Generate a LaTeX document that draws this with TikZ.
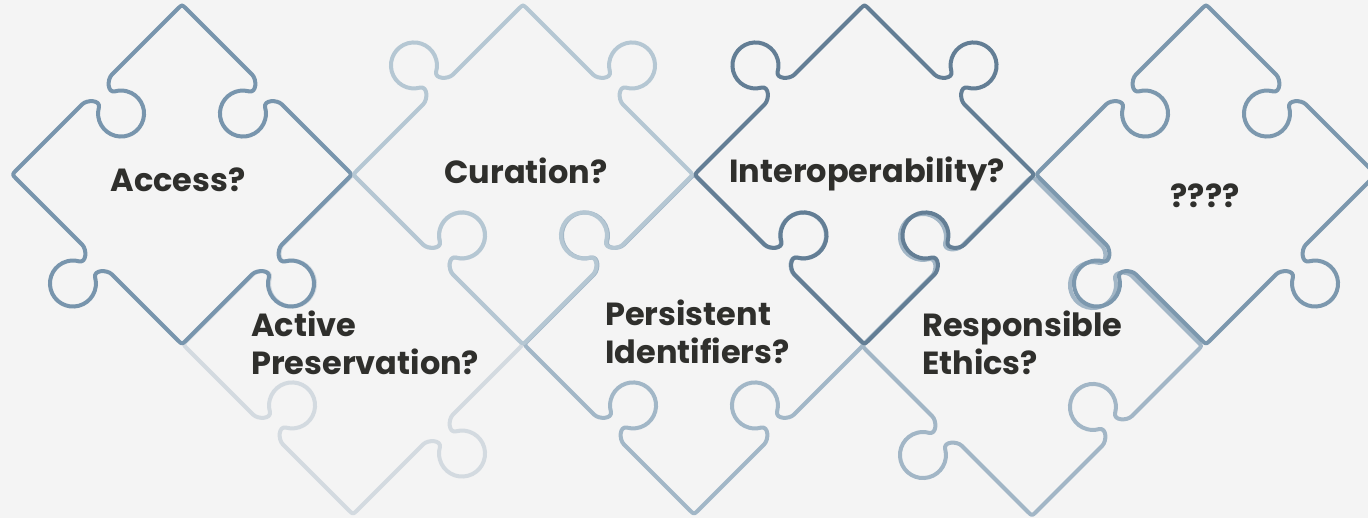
\documentclass[tikz,border=0pt]{standalone}
\usepackage{fontspec}
\setmainfont{Poppins}
\definecolor{bgc}{HTML}{F4F4F4}
\definecolor{txt}{HTML}{2F2F2C}
\definecolor{cAccess}{HTML}{7895AD}
\definecolor{cCuration}{HTML}{B5C7D3}
\definecolor{cInterop}{HTML}{637E95}
\definecolor{cQuest}{HTML}{7C98AE}
\definecolor{cActive}{HTML}{D3DAE0}
\definecolor{cPersist}{HTML}{A2B7C7}
\definecolor{cEthics}{HTML}{A2B6C6}
\def\H{120.2}
% one edge of a piece (square frame): Mx My ex ey sign phi
\newcommand\Edge[6]{%
 -- ({#1+(#3)*(-21)},{#2+(#4)*(-21)})
 .. controls ({#1+(#3)*(-14)},{#2+(#4)*(-14)}) and ({#1+(#3)*(-4.6)-(#5)*(#4)*(10.1)},{#2+(#4)*(-4.6)+(#5)*(#3)*(10.1)})
 .. ({#1+(#3)*(-11.5)-(#5)*(#4)*(14.1)},{#2+(#4)*(-11.5)+(#5)*(#3)*(14.1)})
 arc[start angle={#6+(#5)*240}, end angle={#6-(#5)*60}, radius=23]
 .. controls ({#1+(#3)*(4.6)-(#5)*(#4)*(10.1)},{#2+(#4)*(4.6)+(#5)*(#3)*(10.1)}) and ({#1+(#3)*(14)},{#2+(#4)*(14)})
 .. ({#1+(#3)*(21)},{#2+(#4)*(21)})
 -- ({#1+(#3)*(\H-6)},{#2+(#4)*(\H-6)})
 .. controls ({#1+(#3)*\H},{#2+(#4)*\H})
 .. ({#1+(#3)*\H+6*(#4)},{#2+(#4)*\H-6*(#3)})}
% piece: cx cy colour UL UR LR LL (1 = tab, -1 = hole)
\newcommand\Piece[7]{%
 \begin{scope}[shift={(#1,#2)},rotate=45]
  \draw[piece,draw=#3] ({-\H+6},\H)
   \Edge{0}{\H}{1}{0}{#4}{0}
   \Edge{\H}{0}{0}{-1}{#5}{-90}
   \Edge{0}{-\H}{-1}{0}{#6}{180}
   \Edge{-\H}{0}{0}{1}{#7}{90} -- cycle;
 \end{scope}}
\tikzset{
 piece/.style={line width=4pt, line join=round, line cap=round},
 lbl/.style={text=txt, font=\fontsize{32}{38}\selectfont\bfseries, inner sep=0pt, align=left}
}
\begin{document}
\begin{tikzpicture}[x=1pt,y=1pt]
\fill[bgc] (0,0) rectangle (1368,518);
\useasboundingbox (0,0) rectangle (1368,518);
% bottom row
\Piece{353}{173.5}{cActive}{-1}{1}{1}{-1}
\Piece{694}{173.5}{cPersist}{1}{1}{-1}{-1}
\Piece{1032}{172}{cEthics}{1}{-1}{-1}{1}
% top row
\Piece{182}{343.5}{cAccess}{-1}{-1}{1}{1}
\Piece{523}{343.5}{cCuration}{1}{1}{-1}{-1}
\Piece{864.5}{343.5}{cInterop}{1}{1}{-1}{-1}
\Piece{1206}{343.5}{cQuest}{-1}{-1}{1}{1}
% labels
\node[lbl,anchor=base] (access) at (178,326) {Access?};
\node[lbl,anchor=base] (curation) at (526,334) {Curation?};
\node[lbl,anchor=base] (interop) at (867,335) {Interoperability?};
\node[lbl,anchor=base] (quest) at (1205,310) {????};
\node[lbl,anchor=base west] (active) at (251,143) {Active\\Preservation?};
\node[lbl,anchor=base west] (persist) at (605,154) {Persistent\\Identifiers?};
\node[lbl,anchor=base west] (ethics) at (922,143) {Responsible\\Ethics?};
\end{tikzpicture}
\end{document}
